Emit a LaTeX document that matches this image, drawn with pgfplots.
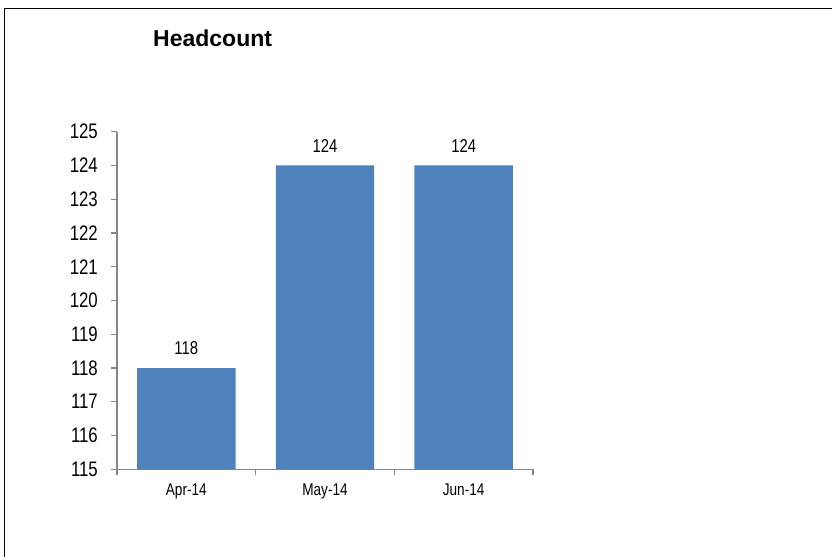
\documentclass[border=0pt]{standalone}
\usepackage{pgfplots}
\pgfplotsset{compat=1.18}
\usepackage{fontspec}
\setmainfont{Liberation Sans}
\newfontfamily\narrowfont[FakeStretch=0.8]{Liberation Sans}
\definecolor{barblue}{HTML}{4F81BD}
\definecolor{axisgray}{HTML}{868686}
\begin{document}
\begin{tikzpicture}[x=1bp,y=1bp]
\path[use as bounding box] (0,0) rectangle (832,557);
\draw[line width=1.6bp, black] (4.5,0) -- (4.5,548.5) -- (832,548.5);
\node[anchor=base west, font=\fontsize{23bp}{27bp}\selectfont\bfseries, inner sep=0pt] at (153,510) {Headcount};
\begin{axis}[
  at={(117bp,87.7bp)}, anchor=south west,
  scale only axis, width=416bp, height=337.6bp,
  xmin=-0.5, xmax=2.5, ymin=115, ymax=125,
  axis x line*=bottom, axis y line*=left,
  axis line style={axisgray, line width=1.2bp},
  tick align=outside,
  major tick length=6bp,
  tick style={axisgray, line width=1.2bp},
  ytick={115,116,...,125},
  xtick={-0.5,0.5,1.5,2.5},
  xticklabels={,,,},
  extra x ticks={0,1,2},
  extra x tick labels={Apr-14,May-14,Jun-14},
  extra x tick style={major tick length=0pt, tick style={draw=none}},
  /pgf/number format/assume math mode=true,
  yticklabel style={font=\narrowfont\fontsize{21bp}{24bp}\selectfont, inner sep=0pt, xshift=-13bp},
  xticklabel style={font=\narrowfont\fontsize{17bp}{20bp}\selectfont, inner sep=0pt, yshift=-14bp},
  clip=false,
]
\addplot[ybar, fill=barblue, draw=none, bar width=0.71,
  nodes near coords,
  nodes near coords style={font=\narrowfont\fontsize{18.6bp}{22bp}\selectfont, text=black, anchor=base, inner sep=0pt, yshift=13.3bp},
  restrict y to domain*=115:125]
  coordinates {(0,118) (1,124) (2,124)};
\end{axis}
\end{tikzpicture}
\end{document}
